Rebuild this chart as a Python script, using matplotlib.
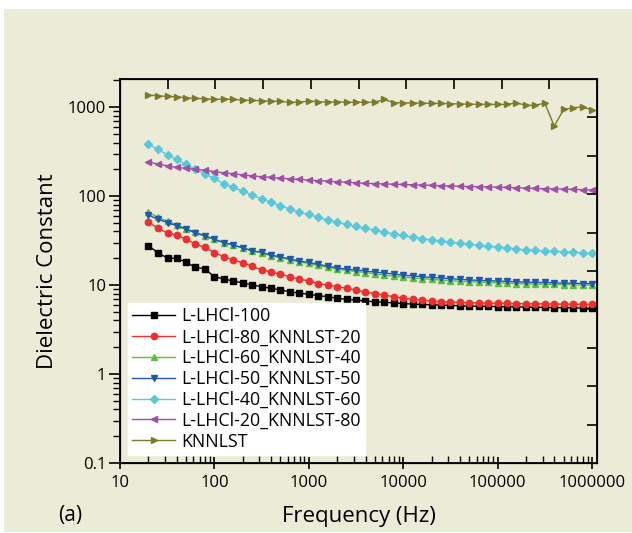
import numpy as np
import matplotlib
matplotlib.use('Agg')
from matplotlib import pyplot as plt
from matplotlib.patches import Rectangle

plt.rcParams['font.family'] = ['Open Sans', 'DejaVu Sans']

# frequency points (Hz), 10 per decade from 20 Hz to 1 MHz
freq = [20, 25, 32, 40, 50, 63, 79, 100, 126, 158,
        200, 251, 316, 398, 501, 631, 794, 1000, 1259, 1585,
        1995, 2512, 3162, 3981, 5012, 6310, 7943, 10000, 12589, 15849,
        19953, 25119, 31623, 39811, 50119, 63096, 79433, 100000, 125893, 158489,
        199526, 251189, 316228, 398107, 501187, 630957, 794328, 1000000]

lhcl_100 = [27.7, 23.2, 20.0, 20.0, 18.1, 15.8, 15.2, 12.4, 11.7, 11.1,
            10.6, 10.0, 9.6, 9.2, 8.8, 8.4, 8.1, 7.9, 7.6, 7.4,
            7.1, 6.9, 6.8, 6.6, 6.5, 6.4, 6.3, 6.2, 6.1, 6.05,
            6.0, 5.95, 5.9, 5.85, 5.8, 5.78, 5.75, 5.72, 5.7, 5.68,
            5.65, 5.63, 5.6, 5.58, 5.56, 5.53, 5.5, 5.47]

lhcl_80 = [50.6, 44.0, 38.3, 36.5, 32.6, 28.9, 26.5, 23.2, 20.8, 19.1,
           17.8, 16.3, 14.8, 14.1, 13.2, 12.4, 11.7, 11.1, 10.4, 10.0,
           9.6, 9.2, 8.8, 8.3, 8.0, 7.7, 7.4, 7.1, 6.9, 6.8,
           6.6, 6.5, 6.45, 6.4, 6.35, 6.3, 6.28, 6.25, 6.22, 6.2,
           6.18, 6.16, 6.14, 6.12, 6.1, 6.09, 6.08, 6.07]

lhcl_60 = [66.0, 58.0, 52.0, 47.5, 43.0, 39.5, 36.0, 33.0, 30.0, 28.3,
           26.2, 24.2, 23.0, 21.3, 20.3, 19.2, 18.2, 17.5, 16.6, 15.8,
           15.1, 14.6, 14.2, 13.8, 13.4, 13.0, 12.6, 12.3, 12.0, 11.8,
           11.6, 11.4, 11.2, 11.0, 10.9, 10.8, 10.7, 10.6, 10.5, 10.4,
           10.3, 10.25, 10.2, 10.15, 10.1, 10.05, 10.0, 10.0]

lhcl_50 = [61.2, 55.2, 50.1, 46.4, 42.3, 38.7, 35.5, 32.6, 29.9, 28.1,
           26.2, 24.3, 23.3, 21.7, 20.8, 19.6, 18.6, 18.0, 17.1, 16.3,
           15.6, 15.1, 14.8, 14.4, 14.0, 13.7, 13.3, 12.9, 12.7, 12.4,
           12.2, 12.0, 11.8, 11.6, 11.4, 11.3, 11.2, 11.1, 11.0, 10.9,
           10.8, 10.7, 10.7, 10.6, 10.5, 10.5, 10.4, 10.4]

lhcl_40 = [381, 337, 289, 258, 227, 201, 177, 158, 137, 125,
           114, 103, 93, 85, 78, 71.4, 65.6, 62.3, 57.6, 53.7,
           50.6, 48.0, 45.7, 43.4, 41.2, 39.5, 37.5, 36.2, 34.4, 33.1,
           32.0, 31.2, 30.4, 29.4, 28.7, 28.1, 27.2, 26.7, 26.1, 25.4,
           24.9, 24.5, 24.1, 23.9, 23.7, 23.3, 23.1, 22.7]

lhcl_20 = [243, 229, 219, 210, 205, 200, 195, 188, 183, 178,
           173, 169, 165, 162, 159, 156, 154, 151, 149, 147.5,
           145, 143.7, 141, 139, 138, 137, 136, 135, 134, 133,
           132, 131, 130, 129, 128, 127.5, 127, 126, 125, 124,
           123, 122, 121, 120.5, 120, 119, 118, 117]

knnlst = [1365, 1340, 1319, 1306, 1272, 1252, 1240, 1220, 1230, 1220,
          1198, 1190, 1178, 1168, 1159, 1130, 1138, 1168, 1148, 1138,
          1148, 1130, 1138, 1130, 1138, 1220, 1118, 1118, 1110, 1110,
          1100, 1100, 1090, 1085, 1080, 1075, 1075, 1072, 1072, 1118,
          1045, 1050, 1110, 612, 941, 982, 1008, 925]

series = [
    ('L-LHCl-100', lhcl_100, '#000000', 's'),
    ('L-LHCl-80_KNNLST-20', lhcl_80, '#ee2f2f', 'o'),
    ('L-LHCl-60_KNNLST-40', lhcl_60, '#5dbd3d', '^'),
    ('L-LHCl-50_KNNLST-50', lhcl_50, '#1f58ad', 'v'),
    ('L-LHCl-40_KNNLST-60', lhcl_40, '#5bc7da', 'D'),
    ('L-LHCl-20_KNNLST-80', lhcl_20, '#a04fa6', '<'),
    ('KNNLST', knnlst, '#7b7b2c', '>'),
]

beige = '#ecebd8'

fig = plt.figure(figsize=(6.32, 5.33), dpi=100, facecolor='white')
fig.patches.append(Rectangle((4 / 632, 1 / 533), 628 / 632, 523 / 533,
                             transform=fig.transFigure, facecolor=beige,
                             edgecolor='none', zorder=-10))

ax = fig.add_axes([120 / 632, 70 / 533, 477 / 632, 384 / 533])
ax.set_facecolor(beige)

for name, vals, col, mk in series:
    ms = 4.2 if mk == 'D' else 4.6
    ax.plot(freq, vals, color=col, marker=mk, markersize=ms, lw=1.0,
            label=name)

ax.set_xscale('log')
ax.set_yscale('log')
ax.set_xlim(10, 1.13e6)
ax.set_ylim(0.1, 2070)

xt = [10, 100, 1000, 10000, 100000, 1000000]
yt = [0.1, 1, 10, 100, 1000]
ax.set_xticks(xt)
ax.set_xticklabels([str(v) for v in xt])
ax.set_yticks(yt)
ax.set_yticklabels(['0.1', '1', '10', '100', '1000'])

ax.tick_params(axis='x', which='major', direction='inout', length=9,
               width=1.2, labelsize=12, pad=4)
ax.tick_params(axis='x', which='minor', direction='in', length=5, width=1)
ax.tick_params(axis='y', which='major', direction='out', length=8,
               width=1.2, labelsize=12, pad=2)
ax.tick_params(axis='y', which='minor', direction='out', length=5, width=1)
for s in ax.spines.values():
    s.set_linewidth(1.3)

ax.set_xlabel('Frequency (Hz)', fontsize=16, labelpad=11)
ax.set_ylabel('Dielectric Constant', fontsize=16, labelpad=7)

# plain ticks on top and right axes
axr = ax.twinx()
axr.set_ylim(0, 1)
axr.set_yticks(np.arange(0.1, 0.95, 0.1))
axr.tick_params(axis='y', direction='in', length=7, width=1.2,
                labelright=False)
axt = ax.twiny()
axt.set_xlim(0, 1)
axt.set_xticks(np.arange(0.1, 0.95, 0.1))
axt.tick_params(axis='x', direction='in', length=7, width=1.2,
                labeltop=False)

leg = ax.legend(loc='lower left', fontsize=12.8, frameon=True, fancybox=False,
                edgecolor='white', facecolor='white', framealpha=1,
                handlelength=2.4, handletextpad=0.35, labelspacing=0.16,
                borderpad=0.25, borderaxespad=0.45)
leg.set_zorder(5)

fig.text(70 / 632, 1 - 515 / 533, '(a)', fontsize=15, ha='center',
         va='center')

fig.savefig('out.png', dpi=100, facecolor=fig.get_facecolor())
